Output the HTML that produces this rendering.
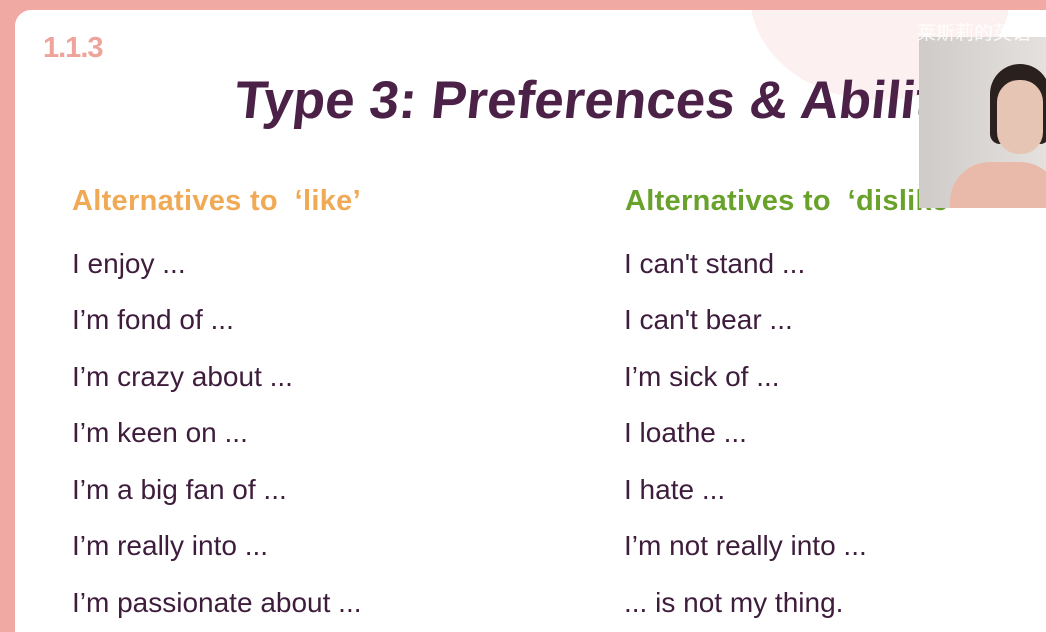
<!DOCTYPE html>
<html><head><meta charset="utf-8"><style>
html,body{margin:0;width:1046px;height:632px;overflow:hidden}
body{background:#f0aaa3;font-family:"Liberation Sans","Noto Sans CJK SC",sans-serif;position:relative}
.card{position:absolute;left:15px;top:10px;width:1031px;height:622px;background:#fff;border-radius:16px 0 0 0;overflow:hidden}
.blob{position:absolute;left:735px;top:-120px;width:260px;height:210px;border-radius:50%;background:#fdf0f1}
.num{position:absolute;left:28px;top:22px;font-size:29px;font-weight:bold;color:#eea39b;letter-spacing:-1px}
.title{position:absolute;left:217px;top:60px;font-size:53px;font-weight:bold;color:#4b2147;white-space:nowrap;transform:skewX(-6deg);transform-origin:left bottom}
.h{position:absolute;top:175px;font-size:29px;font-weight:bold;white-space:nowrap;letter-spacing:0.3px}
.item{position:absolute;font-size:28px;color:#3e1c3c;white-space:nowrap}
.cam{position:absolute;left:919px;top:37px;width:127px;height:171px;background:linear-gradient(90deg,#cfcbc8,#e4e1de);overflow:hidden}
.hair{position:absolute;left:71px;top:27px;width:60px;height:80px;border-radius:30px 30px 10px 10px;background:#2a201d}
.face{position:absolute;left:78px;top:43px;width:46px;height:74px;border-radius:22px;background:#e7c5b5}
.body{position:absolute;left:31px;top:125px;width:110px;height:60px;border-radius:40px 40px 0 0;background:#e9b9aa}
.cap{position:absolute;left:917px;top:18px;font-size:19px;color:#fff;white-space:nowrap;opacity:.9}
</style></head><body>
<div class="card">
<div class="blob"></div>
<div class="num">1.1.3</div>
<div class="title">Type 3: Preferences &amp; Abilities</div>
<div class="h" style="left:57px;color:#f0a955">Alternatives to &nbsp;‘like’</div>
<div class="h" style="left:610px;color:#69a22b">Alternatives to &nbsp;‘dislike’</div>
<div class="item" style="left:57px;top:238px">I enjoy ...</div>
<div class="item" style="left:57px;top:294px">I’m fond of ...</div>
<div class="item" style="left:57px;top:351px">I’m crazy about ...</div>
<div class="item" style="left:57px;top:407px">I’m keen on ...</div>
<div class="item" style="left:57px;top:464px">I’m a big fan of ...</div>
<div class="item" style="left:57px;top:520px">I’m really into ...</div>
<div class="item" style="left:57px;top:577px">I’m passionate about ...</div>
<div class="item" style="left:609px;top:238px">I can't stand ...</div>
<div class="item" style="left:609px;top:294px">I can't bear ...</div>
<div class="item" style="left:609px;top:351px">I’m sick of ...</div>
<div class="item" style="left:609px;top:407px">I loathe ...</div>
<div class="item" style="left:609px;top:464px">I hate ...</div>
<div class="item" style="left:609px;top:520px">I’m not really into ...</div>
<div class="item" style="left:609px;top:577px">... is not my thing.</div>
</div>
<div class="cam">
<div class="hair"></div>
<div class="face"></div>
<div class="body"></div>
</div>
<div class="cap">莱斯莉的英语</div>
</body></html>
